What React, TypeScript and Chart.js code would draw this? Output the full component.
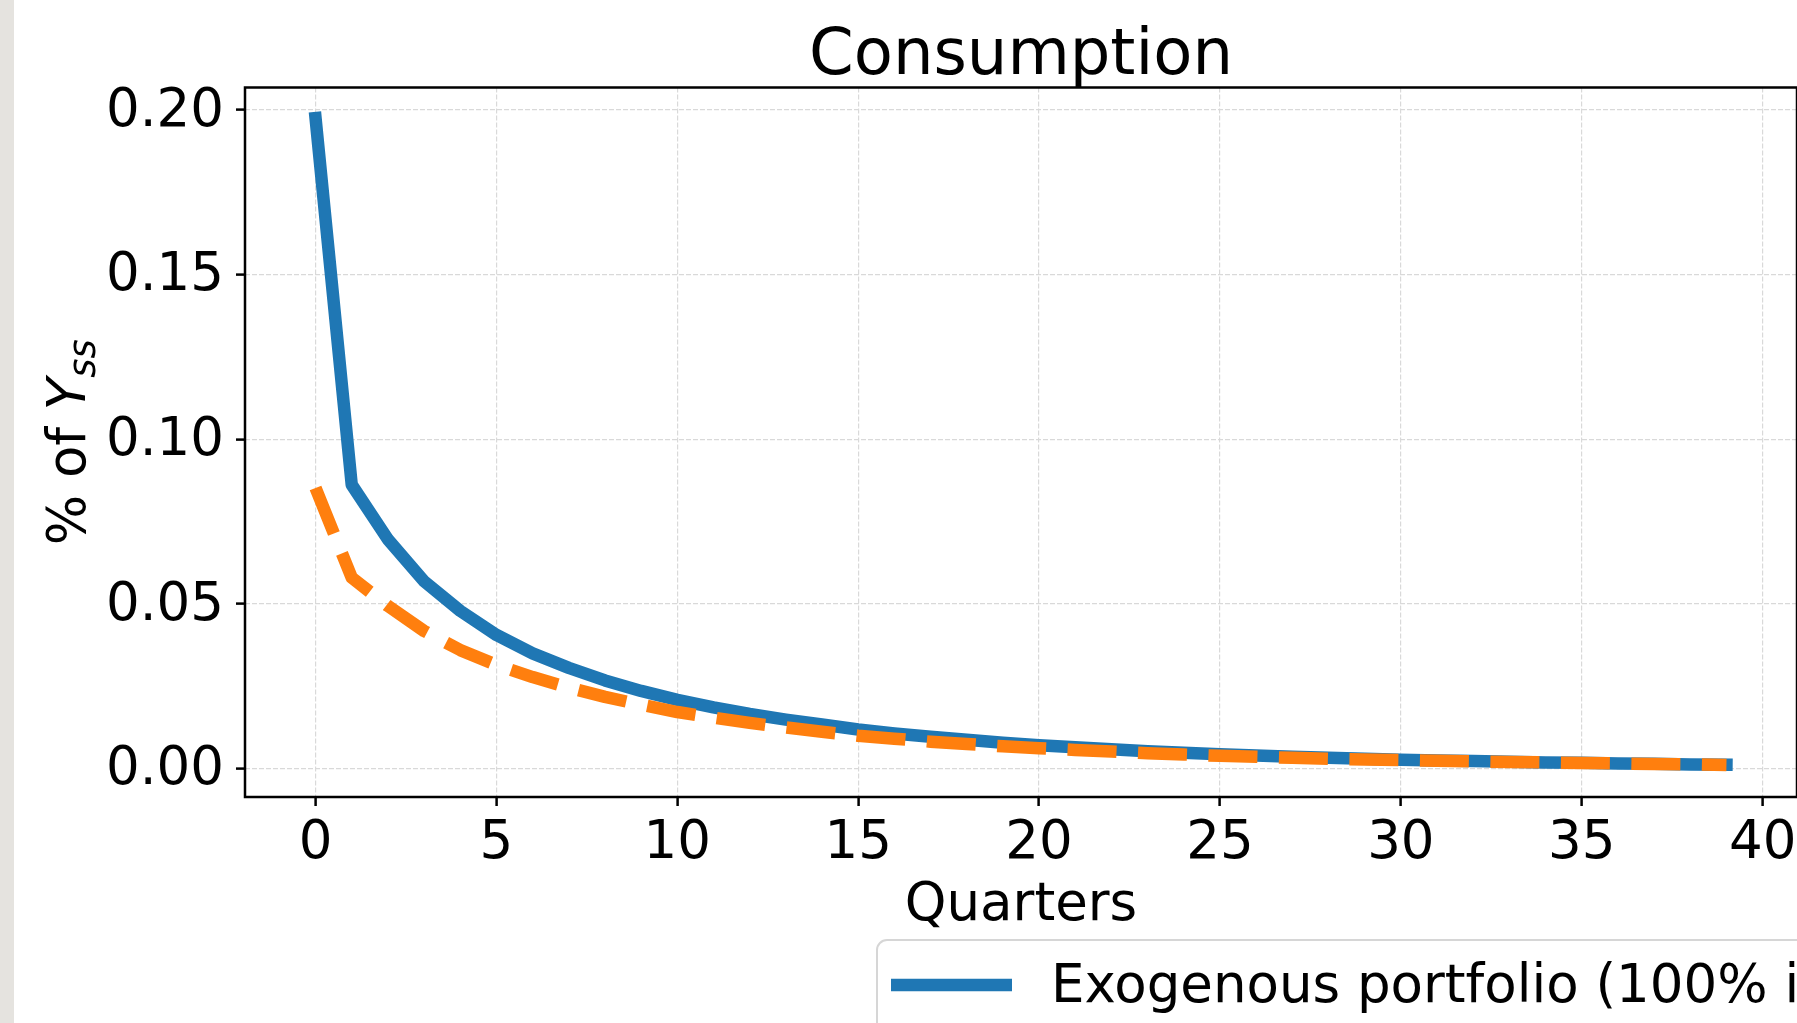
import React, { useEffect, useRef } from "react";
import { Chart, registerables } from "chart.js";

Chart.register(...registerables);

// ---------- data ----------
const quarters = [
  0, 1, 2, 3, 4, 5, 6, 7, 8, 9, 10, 11, 12, 13, 14, 15, 16, 17, 18, 19,
  20, 21, 22, 23, 24, 25, 26, 27, 28, 29, 30, 31, 32, 33, 34, 35, 36, 37, 38, 39,
];

const exogenousSeries = [
  0.1975, 0.0862, 0.0696, 0.0569, 0.0479, 0.0406, 0.035, 0.0306, 0.0268, 0.0236,
  0.0209, 0.0186, 0.0166, 0.0149, 0.0134, 0.0119, 0.0107, 0.0097, 0.0088, 0.0079,
  0.0071, 0.0065, 0.0059, 0.0053, 0.0048, 0.0044, 0.004, 0.0036, 0.0033, 0.003,
  0.0027, 0.0025, 0.0023, 0.0021, 0.0019, 0.0018, 0.0016, 0.0015, 0.0013, 0.0012,
];

const endogenousSeries = [
  0.0852, 0.058, 0.0494, 0.0418, 0.036, 0.0315, 0.0278, 0.0246, 0.0218, 0.0194,
  0.0172, 0.0155, 0.0139, 0.0125, 0.0112, 0.01, 0.0091, 0.0082, 0.0075, 0.0068,
  0.0062, 0.0057, 0.0052, 0.0047, 0.0043, 0.0039, 0.0036, 0.0033, 0.003, 0.0028,
  0.0026, 0.0024, 0.0022, 0.002, 0.0019, 0.0017, 0.0016, 0.0014, 0.0013, 0.0011,
];

const seriesLabels = [
  "Exogenous portfolio (100% in home bonds)",
  "Endogenous portfolio",
];

const xTickValues = [0, 5, 10, 15, 20, 25, 30, 35, 40];
const yTickValues = [0, 0.05, 0.1, 0.15, 0.2];

const chartTitle = "Consumption";
const xAxisTitle = "Quarters";
const yAxisTitleMain = "% of ";
const yAxisTitleVar = "Y";
const yAxisTitleSub = "ss";

// ---------- styling ----------
const FONT = "'DejaVu Sans', 'Liberation Sans', sans-serif";
const BLUE = "#1f77b4";
const ORANGE = "#ff7f0e";
const LINE_W = 12.5;
const DASH = [49, 21.5];
const FS = 53;

const CANVAS_W = 2100;
const CANVAS_H = 1200;
const AREA_LEFT = 245;
const AREA_RIGHT = 1797;
const AREA_TOP = 87.5;
const AREA_BOTTOM = 797;

const decorPlugin = {
  id: "decor",
  afterDatasetsDraw(chart: any) {
    const { ctx, chartArea } = chart;
    const { left, right, top, bottom } = chartArea;
    ctx.save();
    // frame (spines)
    ctx.strokeStyle = "#000";
    ctx.lineWidth = 2.5;
    ctx.setLineDash([]);
    ctx.strokeRect(left, top, right - left, bottom - top);

    // title
    ctx.fillStyle = "#000";
    ctx.textAlign = "center";
    ctx.textBaseline = "alphabetic";
    ctx.font = `64px ${FONT}`;
    ctx.fillText(chartTitle, (left + right) / 2, 74);

    // x axis title
    ctx.font = `${FS}px ${FONT}`;
    ctx.fillText(xAxisTitle, (left + right) / 2, 920);

    // y axis title (rotated, with italic variable and subscript)
    ctx.save();
    ctx.translate(85, (top + bottom) / 2);
    ctx.rotate(-Math.PI / 2);
    ctx.textAlign = "left";
    const mainFont = `${FS}px ${FONT}`;
    const varFont = `italic ${FS}px ${FONT}`;
    const subFont = `italic 37px ${FONT}`;
    ctx.font = mainFont;
    const w1 = ctx.measureText(yAxisTitleMain).width;
    ctx.font = varFont;
    const w2 = ctx.measureText(yAxisTitleVar).width;
    ctx.font = subFont;
    const w3 = ctx.measureText(yAxisTitleSub).width;
    const total = w1 + w2 + w3;
    let x0 = -total / 2;
    ctx.font = mainFont;
    ctx.fillText(yAxisTitleMain, x0, 0);
    x0 += w1;
    ctx.font = varFont;
    ctx.fillText(yAxisTitleVar, x0, 0);
    x0 += w2;
    ctx.font = subFont;
    ctx.fillText(yAxisTitleSub, x0, 10);
    ctx.restore();

    // legend
    const lx = 877;
    const ly = 940;
    const lw = 1250;
    const lh = 150;
    const r = 10;
    ctx.beginPath();
    ctx.moveTo(lx + r, ly);
    ctx.lineTo(lx + lw - r, ly);
    ctx.arcTo(lx + lw, ly, lx + lw, ly + r, r);
    ctx.lineTo(lx + lw, ly + lh - r);
    ctx.arcTo(lx + lw, ly + lh, lx + lw - r, ly + lh, r);
    ctx.lineTo(lx + r, ly + lh);
    ctx.arcTo(lx, ly + lh, lx, ly + lh - r, r);
    ctx.lineTo(lx, ly + r);
    ctx.arcTo(lx, ly, lx + r, ly, r);
    ctx.closePath();
    ctx.fillStyle = "rgba(255,255,255,0.8)";
    ctx.fill();
    ctx.strokeStyle = "#d6d6d6";
    ctx.lineWidth = 2;
    ctx.stroke();

    const datasets = chart.data.datasets;
    const rowH = 62;
    datasets.forEach((ds: any, i: number) => {
      const cy = 985 + i * rowH;
      ctx.beginPath();
      ctx.strokeStyle = ds.borderColor;
      ctx.lineWidth = LINE_W;
      ctx.lineCap = "butt";
      ctx.setLineDash(ds.borderDash || []);
      ctx.moveTo(891, cy);
      ctx.lineTo(1012, cy);
      ctx.stroke();
      ctx.setLineDash([]);
      ctx.fillStyle = "#000";
      ctx.font = `${FS}px ${FONT}`;
      ctx.textAlign = "left";
      ctx.textBaseline = "alphabetic";
      ctx.fillText(ds.label, 1051, cy + 17);
    });
    ctx.restore();
  },
};

export default function App() {
  const canvasRef = useRef<HTMLCanvasElement | null>(null);

  useEffect(() => {
    const canvas = canvasRef.current;
    if (!canvas) return;
    canvas.width = CANVAS_W;
    canvas.height = CANVAS_H;

    const toPoints = (vals: number[]) => quarters.map((q, i) => ({ x: q, y: vals[i] }));

    const gridOpts = {
      color: "#d9d9d9",
      lineWidth: 1.2,
      drawTicks: true,
      tickLength: 9,
      tickWidth: 2.5,
      tickColor: "#000",
      tickBorderDash: [100, 0],
    };

    const chart = new Chart(canvas, {
      type: "line",
      data: {
        datasets: [
          {
            label: seriesLabels[0],
            data: toPoints(exogenousSeries),
            borderColor: BLUE,
            backgroundColor: BLUE,
            borderWidth: LINE_W,
            pointRadius: 0,
            tension: 0,
            borderCapStyle: "square",
            borderJoinStyle: "round",
            order: 1,
          },
          {
            label: seriesLabels[1],
            data: toPoints(endogenousSeries),
            borderColor: ORANGE,
            backgroundColor: ORANGE,
            borderWidth: LINE_W,
            borderDash: DASH,
            pointRadius: 0,
            tension: 0,
            borderCapStyle: "butt",
            borderJoinStyle: "round",
            order: 0,
          },
        ],
      },
      plugins: [decorPlugin],
      options: {
        animation: false,
        responsive: false,
        devicePixelRatio: 1,
        events: [],
        layout: {
          padding: {
            left: 0,
            top: AREA_TOP,
            right: CANVAS_W - AREA_RIGHT,
            bottom: CANVAS_H - AREA_BOTTOM - 100,
          },
        },
        plugins: {
          legend: { display: false },
          title: { display: false },
          tooltip: { enabled: false },
        },
        scales: {
          x: {
            type: "linear",
            min: -1.95,
            max: 40.95,
            afterBuildTicks: (scale: any) => {
              scale.ticks = xTickValues.map((v) => ({ value: v }));
            },
            afterFit: (scale: any) => {
              scale.height = 100;
            },
            grid: gridOpts,
            border: { display: false, dash: [5, 2] },
            ticks: {
              color: "#000",
              font: { family: FONT, size: FS },
              padding: 6,
              maxRotation: 0,
              autoSkip: false,
              callback: (v: any) => String(v),
            },
          },
          y: {
            type: "linear",
            min: -0.0086,
            max: 0.2068,
            afterBuildTicks: (scale: any) => {
              scale.ticks = yTickValues.map((v) => ({ value: v }));
            },
            afterFit: (scale: any) => {
              scale.width = AREA_LEFT;
            },
            grid: gridOpts,
            border: { display: false, dash: [5, 2] },
            ticks: {
              color: "#000",
              font: { family: FONT, size: FS },
              padding: 12,
              labelOffset: 2,
              autoSkip: false,
              callback: (v: any) => Number(v).toFixed(2),
            },
          },
        },
      },
    } as any);

    return () => chart.destroy();
  }, []);

  return (
    <div
      style={{
        position: "fixed",
        left: 0,
        top: 0,
        width: "100vw",
        height: "100vh",
        overflow: "hidden",
        background: "#ffffff",
      }}
    >
      <canvas
        ref={canvasRef}
        style={{ position: "absolute", left: 0, top: 0, width: CANVAS_W, height: CANVAS_H }}
      />
      <div
        style={{
          position: "absolute",
          left: 0,
          top: 0,
          width: 14,
          height: "100%",
          background: "#e5e3df",
        }}
      />
    </div>
  );
}
